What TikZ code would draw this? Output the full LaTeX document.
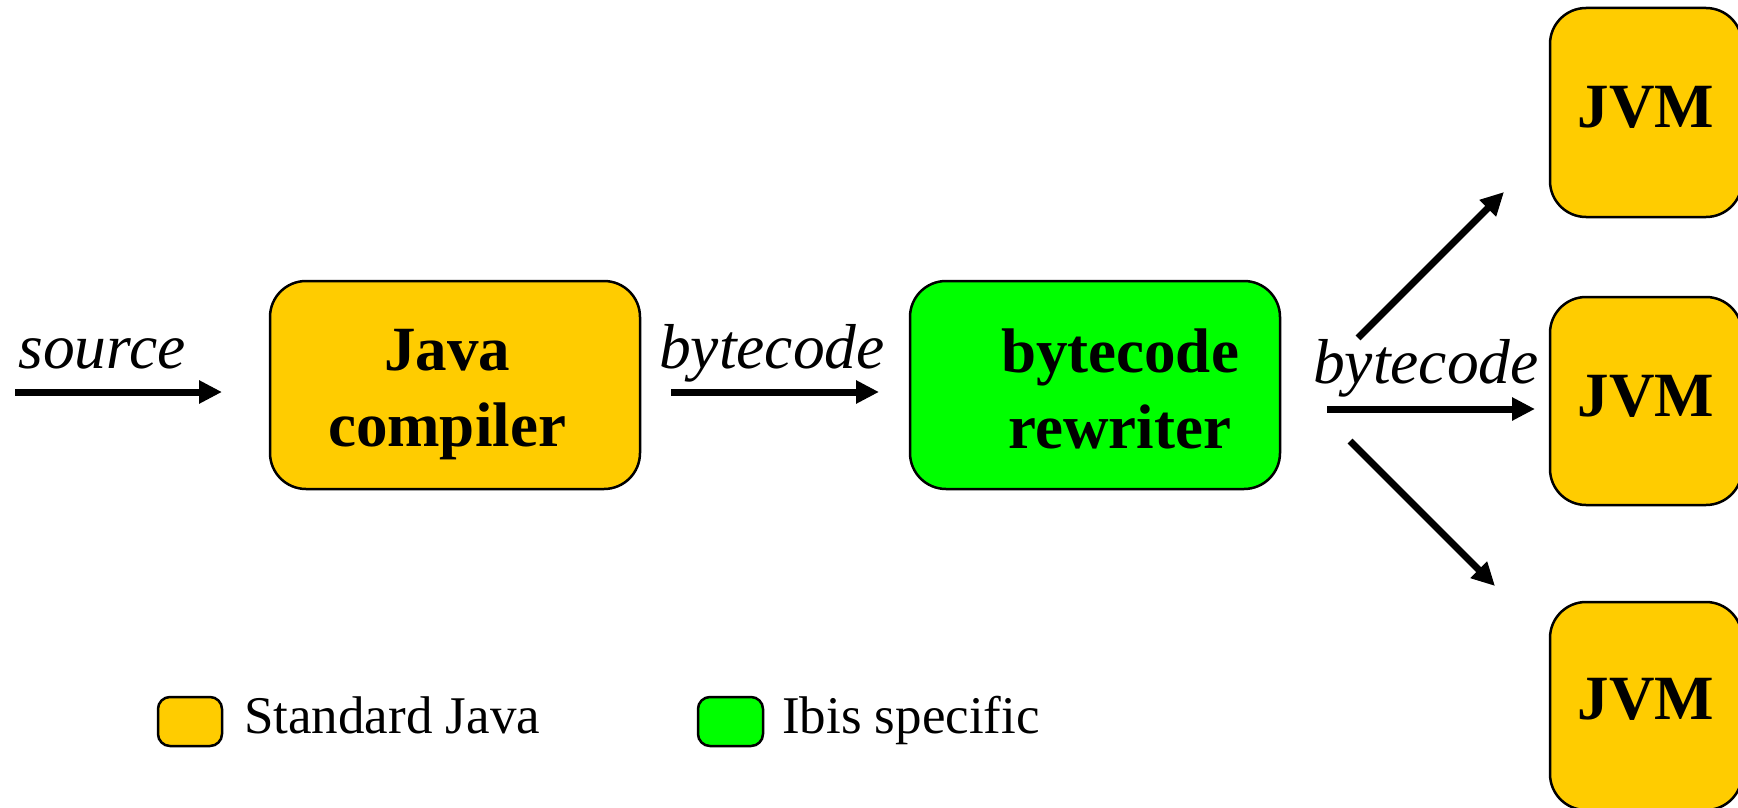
\documentclass[tikz,border=0pt]{standalone}
\usepackage{fontspec}
\setmainfont{Liberation Serif}
\usetikzlibrary{arrows.meta}
\definecolor{stdjava}{RGB}{255,204,0}
\definecolor{ibis}{RGB}{0,255,0}
\begin{document}
\begin{tikzpicture}[x=1pt,y=-1pt,
  box/.style={draw=black,line width=2.5pt,rounded corners=36pt,inner sep=0pt},
  legbox/.style={draw=black,line width=2.5pt,rounded corners=12pt,inner sep=0pt},
  boxtext/.style={inner sep=0pt,align=center,font=\fontsize{63}{76}\selectfont\bfseries},
  flowlabel/.style={inner sep=0pt,anchor=base,font=\fontsize{63.5}{70}\selectfont\itshape},
  legtext/.style={inner sep=0pt,anchor=base west,font=\fontsize{53}{60}\selectfont},
  conn/.style={line width=7pt,-{Triangle[length=23pt,width=22pt]}}]
\useasboundingbox (0,0) rectangle (1738,808);
% main boxes
\node[box,fill=stdjava,minimum width=370pt,minimum height=208pt] (javac) at (455,385) {};
\node[boxtext] (javactext) at (447,395) {Java\\compiler};
\node[box,fill=ibis,minimum width=370pt,minimum height=208pt] (rewriter) at (1095,385) {};
\node[boxtext] (rewritertext) at (1120,389) {bytecode\\rewriter};
% JVM boxes
\node[box,fill=stdjava,minimum width=192pt,minimum height=209pt] (jvm1) at (1646,112.5) {};
\node[box,fill=stdjava,minimum width=192pt,minimum height=208pt] (jvm2) at (1646,401) {};
\node[box,fill=stdjava,minimum width=192pt,minimum height=208pt] (jvm3) at (1646,706) {};
\node[boxtext,anchor=base] (jvm1text) at (1646,128) {JVM};
\node[boxtext,anchor=base] (jvm2text) at (1646,416) {JVM};
\node[boxtext,anchor=base] (jvm3text) at (1646,719) {JVM};
% connector ends
\coordinate (s1) at (15,392);   \coordinate (s2) at (222,392);
\coordinate (b1) at (671,392);  \coordinate (b2) at (879,392);
\coordinate (c1) at (1327,409); \coordinate (c2) at (1535,409);
\coordinate (u1) at (1358,338); \coordinate (u2) at (1504,192);
\coordinate (d1) at (1350,441); \coordinate (d2) at (1495,586);
\draw[conn] (s1) -- (s2);
\draw[conn] (b1) -- (b2);
\draw[conn] (c1) -- (c2);
\draw[conn] (u1) -- (u2);
\draw[conn] (d1) -- (d2);
% labels
\node[flowlabel] (lsource) at (102,368) {source};
\node[flowlabel] (lbyte1) at (772,368) {bytecode};
\node[flowlabel] (lbyte2) at (1426,383) {bytecode};
% legend
\node[legbox,fill=stdjava,minimum width=64pt,minimum height=49pt] (legstd) at (190,721.5) {};
\node[legtext] (legstdtext) at (244,733) {Standard Java};
\node[legbox,fill=ibis,minimum width=65pt,minimum height=49pt] (legibis) at (730.5,721.5) {};
\node[legtext] (legibistext) at (782,733) {Ibis specific};
\end{tikzpicture}
\end{document}
